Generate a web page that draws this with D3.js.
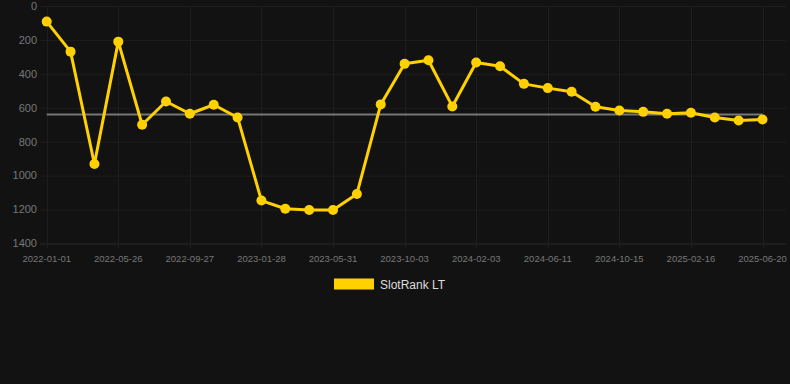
<!DOCTYPE html>
<html>
<head>
<meta charset="utf-8">
<script src="https://cdn.jsdelivr.net/npm/d3@7"></script>
<style>
html,body{margin:0;padding:0;background:#121212;}
svg{display:block;font-family:"Liberation Sans",Arial,sans-serif;}
</style>
</head>
<body>
<svg id="chart" width="790" height="384"></svg>
<script>
// Rank values (lower is better), one per observation
const rankValues = [92, 269, 931, 210, 700, 563, 635, 582, 657, 1147, 1195, 1203, 1203, 1108, 580,
  341, 320, 592, 333, 355, 459, 484, 506, 594, 616, 624, 635, 629, 657, 675, 669];
// Tick labels shown on every third observation
const tickLabels = ["2022-01-01","2022-05-26","2022-09-27","2023-01-28","2023-05-31","2023-10-03",
  "2024-02-03","2024-06-11","2024-10-15","2025-02-16","2025-06-20"];
const yTicks = [0, 200, 400, 600, 800, 1000, 1200, 1400];
const averageRank = 640;
const seriesName = "SlotRank LT";

const svg = d3.select("#chart");
const W = 790, H = 384;
const innerBottom = 243.5;

svg.append("rect").attr("width", W).attr("height", H).attr("fill", "#121212");

const idx = d3.range(rankValues.length);
const x = d3.scalePoint().domain(idx).range([46.7, 762.5]);
const y = d3.scaleLinear().domain([0, 1400]).range([6, innerBottom]);

// grid
const g = svg.append("g");
g.selectAll("line.h").data(yTicks).join("line")
  .attr("x1", 40).attr("x2", 790 - 4)
  .attr("y1", d => y(d) + 0.5).attr("y2", d => y(d) + 0.5)
  .attr("stroke", d => d === 1400 ? "#292929" : "#1d1d1d").attr("stroke-width", 1);
const tickIdx = tickLabels.map((t, i) => i * 3);
g.selectAll("line.v").data(tickIdx).join("line")
  .attr("x1", d => Math.round(x(d)) + 0.5).attr("x2", d => Math.round(x(d)) + 0.5)
  .attr("y1", 6).attr("y2", innerBottom + 5)
  .attr("stroke", "#1d1d1d").attr("stroke-width", 1);

// y labels
svg.selectAll("text.yl").data(yTicks).join("text")
  .attr("x", 37).attr("y", d => y(d)).attr("dy", "0.35em")
  .attr("text-anchor", "end").attr("fill", "#777").attr("font-size", 11)
  .text(d => d);

// x labels
svg.selectAll("text.xl").data(tickLabels).join("text")
  .attr("x", (d, i) => x(i * 3)).attr("y", 259).attr("dy", "0.35em")
  .attr("text-anchor", "middle").attr("fill", "#777").attr("font-size", 9.5)
  .text(d => d);

// average line
svg.append("line")
  .attr("x1", x(0)).attr("x2", x(rankValues.length - 1))
  .attr("y1", y(averageRank)).attr("y2", y(averageRank))
  .attr("stroke", "#777").attr("stroke-width", 2);

// series line
const line = d3.line().x((d, i) => x(i)).y(d => y(d));
svg.append("path").datum(rankValues)
  .attr("d", line).attr("fill", "none")
  .attr("stroke", "#FFD100").attr("stroke-width", 3).attr("stroke-linejoin", "round");

svg.selectAll("circle.pt").data(rankValues).join("circle")
  .attr("cx", (d, i) => x(i)).attr("cy", d => y(d)).attr("r", 5)
  .attr("fill", "#FFD100");

// legend
svg.append("rect").attr("x", 334).attr("y", 278.5).attr("width", 40).attr("height", 11)
  .attr("fill", "#FFD100");
svg.append("text").attr("x", 380).attr("y", 284.5).attr("dy", "0.35em")
  .attr("fill", "#ddd").attr("font-size", 12).text(seriesName);
</script>
</body>
</html>
